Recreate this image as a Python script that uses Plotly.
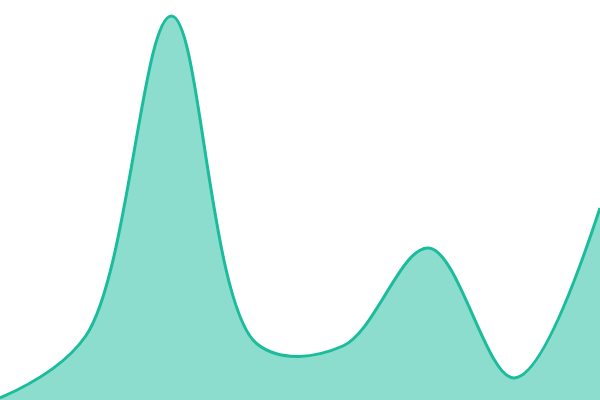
import plotly.graph_objects as go

# 数据
x_vals = [0, 1, 2, 3, 4, 5, 6, 7]
y_vals = [0.5, 16, 96, 14, 13.5, 38, 5.5, 48]

fig = go.Figure()

fig.add_trace(go.Scatter(
    x=x_vals,
    y=y_vals,
    mode='lines',
    line=dict(color='#1abc9c', width=3, shape='spline', smoothing=1),
    fill='tozeroy',
    fillcolor='rgba(26,188,156,0.5)',
    hoverinfo='skip'
))

fig.update_layout(
    width=600,
    height=400,
    margin=dict(l=0, r=0, t=0, b=0),
    paper_bgcolor='white',
    plot_bgcolor='white',
    showlegend=False,
    xaxis=dict(visible=False, range=[0, 7]),
    yaxis=dict(visible=False, range=[0, 100])
)

# 去掉页面默认边距和工具栏
fig.write_html(
    "out.html",
    config={'displayModeBar': False},
    post_script="document.body.style.margin='0';document.body.style.overflow='hidden';"
)
